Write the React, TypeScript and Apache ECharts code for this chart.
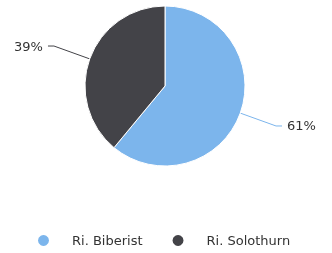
import React, { useEffect, useRef } from "react";
import * as echarts from "echarts";

const categories = ["Ri. Biberist", "Ri. Solothurn"];
const values = [61, 39];
const colors = ["#7cb5ec", "#434348"];

export default function App() {
  const ref = useRef<HTMLDivElement>(null);
  useEffect(() => {
    const chart = echarts.init(ref.current!, null, { renderer: "svg" });
    chart.setOption({
      animation: false,
      color: colors,
      textStyle: { fontFamily: "DejaVu Sans" },
      legend: {
        top: 228,
        left: 31,
        icon: "circle",
        itemWidth: 13,
        itemHeight: 13,
        itemGap: 28,
        textStyle: { fontSize: 13, color: "#333", padding: [0, 0, 0, 17] },
        data: categories,
      },
      series: [
        {
          type: "pie",
          center: [165, 86],
          radius: 80,
          startAngle: 90,
          clockwise: true,
          itemStyle: { borderColor: "#fff", borderWidth: 1 },
          label: {
            formatter: "{d}%",
            fontSize: 13,
            color: "#333",
          },
          labelLine: { length: 38, length2: 6, lineStyle: { width: 1 } },
          data: categories.map((c, i) => ({ name: c, value: values[i] })),
        },
      ],
    });
    return () => chart.dispose();
  }, []);
  return (
    <div
      ref={ref}
      style={{ position: "fixed", left: 0, top: 0, width: 332, height: 253 }}
    />
  );
}
